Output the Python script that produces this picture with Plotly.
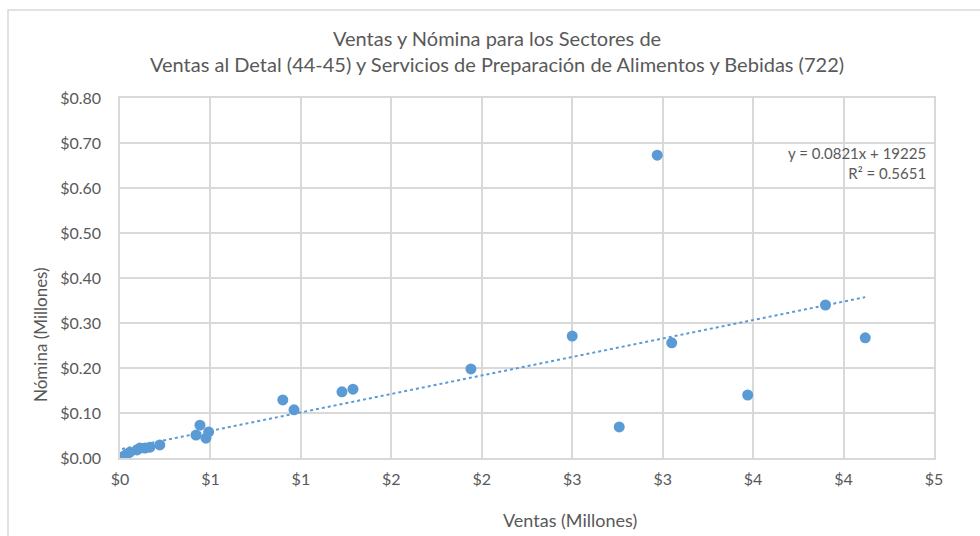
import plotly.graph_objects as go

# Ventas y nómina por establecimiento (millones de dólares)
ventas = [2.97, 3.90, 4.12, 2.50, 3.05, 1.94, 3.47, 2.76, 1.288, 1.227,
          0.90, 0.962, 0.442, 0.42, 0.49, 0.475, 0.22, 0.166, 0.138, 0.11,
          0.094, 0.055, 0.039, 0.022, 0.011]
nomina = [0.673, 0.340, 0.267, 0.271, 0.256, 0.198, 0.140, 0.069, 0.153, 0.147,
          0.129, 0.107, 0.073, 0.051, 0.058, 0.044, 0.029, 0.024, 0.022, 0.022,
          0.018, 0.013, 0.009, 0.004, 0.002]

# Tendencia lineal (en dólares): y = 0.0821x + 19225
pendiente = 0.0821
intercepto = 19225
r2 = 0.5651

x_ticks = [0, 0.5, 1.0, 1.5, 2.0, 2.5, 3.0, 3.5, 4.0, 4.5]
x_tick_labels = ["$0", "$1", "$1", "$2", "$2", "$3", "$3", "$4", "$4", "$5"]
y_ticks = [0, 0.1, 0.2, 0.3, 0.4, 0.5, 0.6, 0.7, 0.8]

FONT = "Lato"
GRIS = "#595959"
GRID = "#D9D9D9"
AZUL = "#5B9BD5"

x_min, x_max = min(ventas), max(ventas)
tend_x = [x_min, x_max]
tend_y = [pendiente * v + intercepto / 1e6 for v in tend_x]

fig = go.Figure()
fig.add_trace(go.Scatter(
    x=tend_x, y=tend_y, mode="lines",
    line=dict(color=AZUL, width=2, dash="dot"),
    hoverinfo="skip", showlegend=False,
))
fig.add_trace(go.Scatter(
    x=ventas, y=nomina, mode="markers",
    marker=dict(color=AZUL, size=11),
    showlegend=False,
))

W, H = 980, 536
L, R, T, B = 120, 46, 98, 78
pw, ph = W - L - R, H - T - B


def px_x(p):
    return (p - L) / pw


def px_y(p):
    return (H - B - p) / ph


fig.update_layout(
    width=W, height=H,
    margin=dict(l=L, r=R, t=T, b=B),
    paper_bgcolor="white", plot_bgcolor="white",
    font=dict(family=FONT, color=GRIS, size=16),
    xaxis=dict(
        range=[0, 4.5], tickvals=x_ticks, ticktext=x_tick_labels,
        showgrid=True, gridcolor=GRID, gridwidth=1.5,
        showline=True, linecolor=GRID, linewidth=1.5, mirror=True,
        zeroline=False, ticks="outside", ticklen=6, tickcolor="rgba(0,0,0,0)",
        tickfont=dict(size=16, color=GRIS, family=FONT),
    ),
    yaxis=dict(
        range=[0, 0.8], tickvals=y_ticks, tickformat="$.2f",
        showgrid=True, gridcolor=GRID, gridwidth=1.5,
        showline=True, linecolor=GRID, linewidth=1.5, mirror=True,
        zeroline=False, ticks="outside", ticklen=14, tickcolor="rgba(0,0,0,0)",
        tickfont=dict(size=16, color=GRIS, family=FONT),
    ),
    shapes=[dict(
        type="rect", xref="paper", yref="paper",
        x0=px_x(8), x1=px_x(1000), y0=px_y(560), y1=px_y(10),
        line=dict(color=GRID, width=1.5), layer="below",
    )],
    annotations=[
        dict(text="Ventas y Nómina para los Sectores de<br>"
                  "Ventas al Detal (44-45) y Servicios de Preparación de Alimentos y Bebidas (722)",
             xref="paper", yref="paper", x=px_x(497), y=px_y(51),
             xanchor="center", yanchor="middle", showarrow=False,
             font=dict(size=20, color=GRIS, family=FONT)),
        dict(text="Ventas (Millones)", xref="paper", yref="paper",
             x=px_x(570), y=px_y(520), xanchor="center", yanchor="middle",
             showarrow=False, font=dict(size=18, color=GRIS, family=FONT)),
        dict(text="Nómina (Millones)", xref="paper", yref="paper",
             x=px_x(40), y=px_y(335), xanchor="center", yanchor="middle",
             textangle=-90, showarrow=False,
             font=dict(size=17, color=GRIS, family=FONT)),
        dict(text=f"y = {pendiente}x + {intercepto}<br>R² = {r2}",
             xref="paper", yref="paper", x=px_x(928), y=px_y(163),
             xanchor="right", yanchor="middle", align="right", showarrow=False,
             font=dict(size=15, color=GRIS, family=FONT)),
    ],
)

fig.write_html("out.html")
